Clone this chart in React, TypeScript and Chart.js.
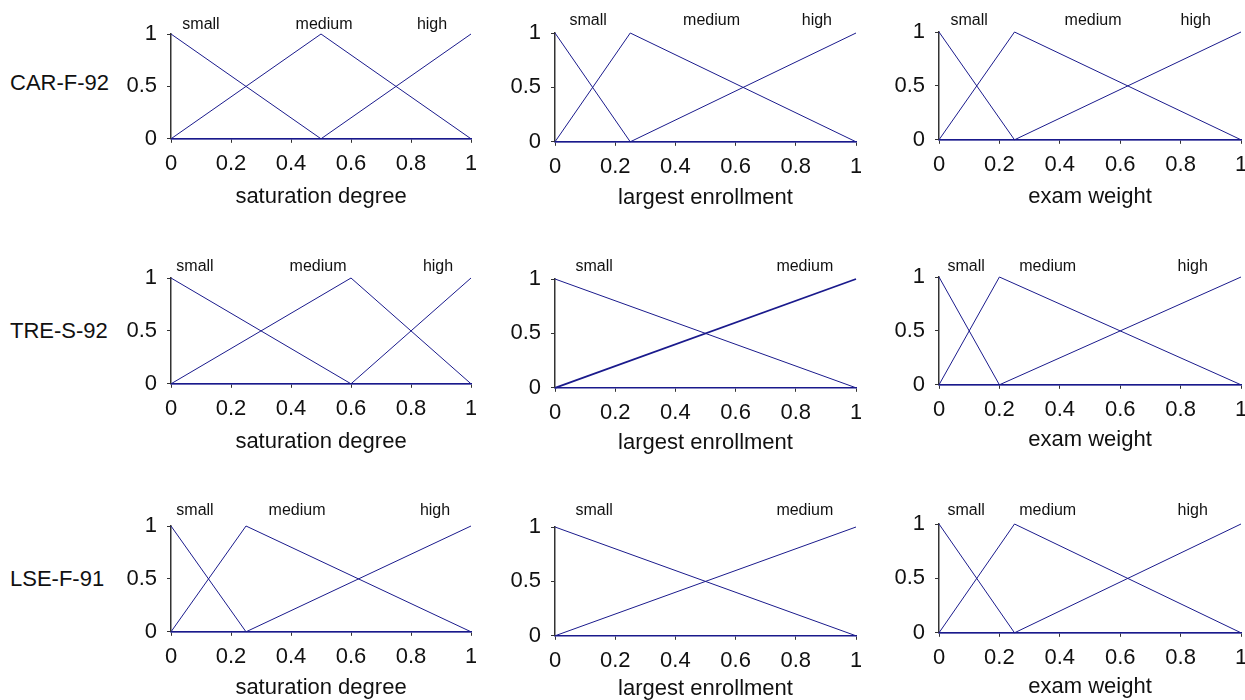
import React, { useEffect, useRef } from "react";
import { Chart, registerables } from "chart.js";

Chart.register(...registerables);

// ---------- data ----------
const rowNames = ["CAR-F-92", "TRE-S-92", "LSE-F-91"];
const variableNames = ["saturation degree", "largest enrollment", "exam weight"];
const xTickValues = [0, 0.2, 0.4, 0.6, 0.8, 1];
const yTickValues = [0, 0.5, 1];

const termsThree = ["small", "medium", "high"];
const termsTwo = ["small", "medium"];

// membership degrees at the breakpoints
const triSmall = [1, 0, 0];
const triMedium = [0, 1, 0];
const triHigh = [0, 0, 1];
const linSmall = [1, 0];
const linMedium = [0, 1];

// breakpoints (x) for each panel
const carSaturationX = [0, 0.5, 1];
const carEnrollmentX = [0, 0.25, 1];
const carWeightX = [0, 0.25, 1];
const treSaturationX = [0, 0.6, 1];
const treEnrollmentX = [0, 1];
const treWeightX = [0, 0.2, 1];
const lseSaturationX = [0, 0.25, 1];
const lseEnrollmentX = [0, 1];
const lseWeightX = [0, 0.25, 1];

// where the term names sit along x
const carSaturationLabelX = [0.1, 0.51, 0.87];
const carEnrollmentLabelX = [0.11, 0.52, 0.87];
const carWeightLabelX = [0.1, 0.51, 0.85];
const treSaturationLabelX = [0.08, 0.49, 0.89];
const treEnrollmentLabelX = [0.13, 0.83];
const treWeightLabelX = [0.09, 0.36, 0.84];
const lseSaturationLabelX = [0.08, 0.42, 0.88];
const lseEnrollmentLabelX = [0.13, 0.83];
const lseWeightLabelX = [0.09, 0.36, 0.84];

// ---------- layout / style ----------
const FONT = '"Liberation Sans", Arial, Helvetica, sans-serif';
const LINE_COLOR = "#1a1a8c";
const TEXT_COLOR = "#111111";
const Y_AXIS_W = 50;
const TOP_PAD = 32;
const RIGHT_PAD = 5;
const TICK_FONT = 22;
const TERM_FONT = 16;

const colLeft = [171, 555, 939];
const colRight = [471, 856, 1241];
const plotTops = [
  [34, 33, 32],
  [278, 279, 277],
  [526, 527, 524],
];
const plotBottoms = [
  [139, 142, 140],
  [384, 388, 385],
  [632, 636, 633],
];
const titleOffsets = [
  [58, 56, 57],
  [58, 55, 55],
  [56, 53, 54],
];
const termOffsets = [
  [9, 12, 11],
  [11, 12, 10],
  [15, 16, 13],
];
const rowLabelCenters = [83, 331, 579];

type Series = { name: string; x: number[]; y: number[]; width?: number };
type PanelDef = {
  row: number;
  col: number;
  series: Series[];
  terms: string[];
  termX: number[];
};

function three(x: number[]): Series[] {
  return [
    { name: "small", x, y: triSmall },
    { name: "medium", x, y: triMedium },
    { name: "high", x, y: triHigh },
  ];
}

const panels: PanelDef[] = [
  { row: 0, col: 0, series: three(carSaturationX), terms: termsThree, termX: carSaturationLabelX },
  { row: 0, col: 1, series: three(carEnrollmentX), terms: termsThree, termX: carEnrollmentLabelX },
  { row: 0, col: 2, series: three(carWeightX), terms: termsThree, termX: carWeightLabelX },
  { row: 1, col: 0, series: three(treSaturationX), terms: termsThree, termX: treSaturationLabelX },
  {
    row: 1,
    col: 1,
    series: [
      { name: "small", x: treEnrollmentX, y: linSmall },
      { name: "medium", x: treEnrollmentX, y: linMedium, width: 1.8 },
    ],
    terms: termsTwo,
    termX: treEnrollmentLabelX,
  },
  { row: 1, col: 2, series: three(treWeightX), terms: termsThree, termX: treWeightLabelX },
  { row: 2, col: 0, series: three(lseSaturationX), terms: termsThree, termX: lseSaturationLabelX },
  {
    row: 2,
    col: 1,
    series: [
      { name: "small", x: lseEnrollmentX, y: linSmall },
      { name: "medium", x: lseEnrollmentX, y: linMedium },
    ],
    terms: termsTwo,
    termX: lseEnrollmentLabelX,
  },
  { row: 2, col: 2, series: three(lseWeightX), terms: termsThree, termX: lseWeightLabelX },
];

const termLabelPlugin = {
  id: "termLabels",
  afterDraw(chart: any, _args: any, opts: any) {
    const { ctx, chartArea, scales } = chart;
    ctx.save();
    ctx.font = `${TERM_FONT}px ${FONT}`;
    ctx.fillStyle = TEXT_COLOR;
    ctx.textAlign = "center";
    ctx.textBaseline = "middle";
    (opts.labels as string[]).forEach((t, i) => {
      ctx.fillText(t, scales.x.getPixelForValue(opts.positions[i]), chartArea.top - opts.offset);
    });
    ctx.restore();
  },
};

function Panel({ p }: { p: PanelDef }) {
  const ref = useRef<HTMLCanvasElement | null>(null);
  const left = colLeft[p.col];
  const right = colRight[p.col];
  const top = plotTops[p.row][p.col];
  const bottom = plotBottoms[p.row][p.col];
  const titleOff = titleOffsets[p.row][p.col];
  const xAxisH = titleOff + (TICK_FONT * 1.2) / 2;
  const cw = Y_AXIS_W + (right - left) + RIGHT_PAD;
  const ch = TOP_PAD + (bottom - top) + xAxisH;
  const cx = left - Y_AXIS_W;
  const cy = top - TOP_PAD;

  useEffect(() => {
    if (!ref.current) return;
    const chart = new Chart(ref.current, {
      type: "line",
      data: {
        datasets: p.series.map((s) => ({
          label: s.name,
          data: s.x.map((xv, i) => ({ x: xv, y: s.y[i] })),
          borderColor: LINE_COLOR,
          backgroundColor: LINE_COLOR,
          borderWidth: s.width ?? 1,
          pointRadius: 0,
          tension: 0,
          fill: false,
          clip: 6,
        })),
      },
      options: {
        animation: false,
        responsive: false,
        events: [],
        layout: { padding: { top: TOP_PAD, right: RIGHT_PAD, left: 0, bottom: 0 } },
        plugins: {
          legend: { display: false },
          tooltip: { enabled: false },
          termLabels: { labels: p.terms, positions: p.termX, offset: termOffsets[p.row][p.col] },
        } as any,
        scales: {
          x: {
            type: "linear",
            min: 0,
            max: 1,
            afterBuildTicks: (scale: any) => {
              scale.ticks = xTickValues.map((v) => ({ value: v }));
            },
            afterFit: (scale: any) => {
              scale.height = xAxisH;
              scale.paddingLeft = 0;
              scale.paddingRight = 0;
            },
            ticks: {
              autoSkip: false,
              maxRotation: 0,
              padding: 8,
              color: TEXT_COLOR,
              font: { family: FONT, size: TICK_FONT },
              callback: (v: any) => String(v),
            },
            grid: { drawOnChartArea: false, drawTicks: true, tickLength: 4, color: "#333333", lineWidth: 1 },
            border: { display: true, color: LINE_COLOR, width: 1.5 },
            title: {
              display: true,
              text: variableNames[p.col],
              color: TEXT_COLOR,
              font: { family: FONT, size: TICK_FONT },
              padding: 0,
            },
          },
          y: {
            type: "linear",
            min: 0,
            max: 1,
            afterBuildTicks: (scale: any) => {
              scale.ticks = yTickValues.map((v) => ({ value: v }));
            },
            afterFit: (scale: any) => {
              scale.width = Y_AXIS_W;
              scale.paddingTop = 0;
              scale.paddingBottom = 0;
            },
            ticks: {
              autoSkip: false,
              padding: 10,
              color: TEXT_COLOR,
              font: { family: FONT, size: TICK_FONT },
              callback: (v: any) => String(v),
            },
            grid: { drawOnChartArea: false, drawTicks: true, tickLength: 4, color: "#333333", lineWidth: 1 },
            border: { display: true, color: "#333333", width: 1.5 },
          },
        },
      },
      plugins: [termLabelPlugin],
    } as any);
    return () => chart.destroy();
  }, []);

  return (
    <canvas
      ref={ref}
      width={cw}
      height={Math.round(ch)}
      style={{ position: "absolute", left: cx, top: cy, width: cw, height: Math.round(ch) }}
    />
  );
}

export default function App() {
  return (
    <div
      style={{
        position: "fixed",
        left: 0,
        top: 0,
        width: 1245,
        height: 700,
        background: "#ffffff",
        overflow: "hidden",
        fontFamily: FONT,
      }}
    >
      {rowNames.map((name, r) => (
        <div
          key={name}
          style={{
            position: "absolute",
            left: 10,
            top: rowLabelCenters[r] - 13,
            fontSize: 22,
            lineHeight: "26px",
            color: TEXT_COLOR,
            whiteSpace: "nowrap",
          }}
        >
          {name}
        </div>
      ))}
      {panels.map((p) => (
        <Panel key={`${p.row}-${p.col}`} p={p} />
      ))}
    </div>
  );
}
